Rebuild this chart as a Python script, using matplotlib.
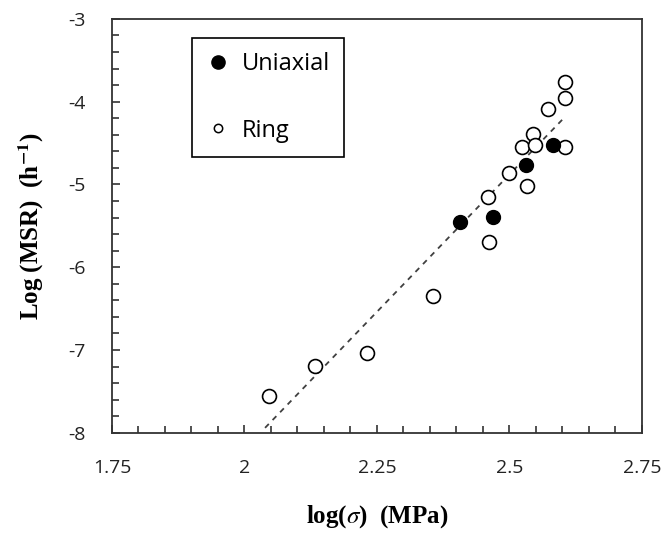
import matplotlib
matplotlib.use("Agg")
import matplotlib.pyplot as plt
from matplotlib.lines import Line2D
from matplotlib.ticker import MultipleLocator

# Data
uniaxial_x = [2.407, 2.469, 2.531, 2.582]
uniaxial_y = [-5.45, -5.39, -4.76, -4.52]

ring_x = [2.047, 2.133, 2.232, 2.356, 2.461, 2.459, 2.499, 2.533, 2.524,
          2.544, 2.548, 2.573, 2.605, 2.605, 2.605]
ring_y = [-7.55, -7.19, -7.04, -6.35, -5.70, -5.15, -4.86, -5.02, -4.55,
          -4.39, -4.52, -4.09, -3.95, -3.76, -4.55]

# Trend line end points
trend_x = [2.039, 2.601]
trend_y = [-7.94, -4.21]

x_ticks = [1.75, 2, 2.25, 2.5, 2.75]
x_tick_labels = ["1.75", "2", "2.25", "2.5", "2.75"]

plt.rcParams["mathtext.fontset"] = "stix"
plt.rcParams["axes.unicode_minus"] = False

fig = plt.figure(figsize=(6.70, 5.39), dpi=100)
ax = fig.add_axes([0.167, 0.197, 0.791, 0.768])

# Dashed trend line
ax.plot(trend_x, trend_y, linestyle=(0, (3, 3)), color="#404040", linewidth=1.3, zorder=1)

# Points
ax.plot(ring_x, ring_y, linestyle="none", marker="o", markersize=10,
        markerfacecolor="white", markeredgecolor="black", markeredgewidth=1.2, zorder=2)
ax.plot(uniaxial_x, uniaxial_y, linestyle="none", marker="o", markersize=10,
        markerfacecolor="black", markeredgecolor="black", zorder=3)

ax.set_xlim(1.75, 2.75)
ax.set_ylim(-8, -3)
ax.xaxis.set_minor_locator(MultipleLocator(0.05))
ax.yaxis.set_major_locator(MultipleLocator(1))
ax.yaxis.set_minor_locator(MultipleLocator(0.2))
ax.set_xticks(x_ticks)
ax.set_xticklabels(x_tick_labels)

ax.tick_params(which="both", direction="in", top=False, right=False,
               labelsize=14, width=1.2, color="#333333")
ax.tick_params(which="major", length=6, pad=19)
ax.tick_params(which="minor", length=5)
for label in ax.get_xticklabels() + ax.get_yticklabels():
    label.set_family("Open Sans")
    label.set_color("#222222")

for spine in ax.spines.values():
    spine.set_linewidth(1.3)
    spine.set_color("#333333")

ax.set_xlabel(r"log($\sigma$)  (MPa)", fontsize=18, fontweight="bold",
              family="Liberation Serif", labelpad=19)
ax.set_ylabel(r"Log (MSR)  (h$^{\mathbf{-1}}$)", fontsize=18, fontweight="bold",
              family="Liberation Serif", labelpad=16)

# Legend
handles = [
    Line2D([], [], linestyle="none", marker="o", markersize=9.5,
           markerfacecolor="black", markeredgecolor="black"),
    Line2D([], [], linestyle="none", marker="o", markersize=6,
           markerfacecolor="white", markeredgecolor="black", markeredgewidth=1.1),
]
leg = ax.legend(handles, ["Uniaxial", "Ring"], loc="upper left",
                bbox_to_anchor=(0.151, 0.954), frameon=True, fancybox=False,
                edgecolor="black", framealpha=1,
                labelspacing=1.8, borderpad=0.6, handletextpad=0.5,
                handlelength=1.0, borderaxespad=0,
                prop={"family": "Open Sans", "size": 17})
leg.get_frame().set_linewidth(1.2)

fig.savefig("out.png", dpi=100)
